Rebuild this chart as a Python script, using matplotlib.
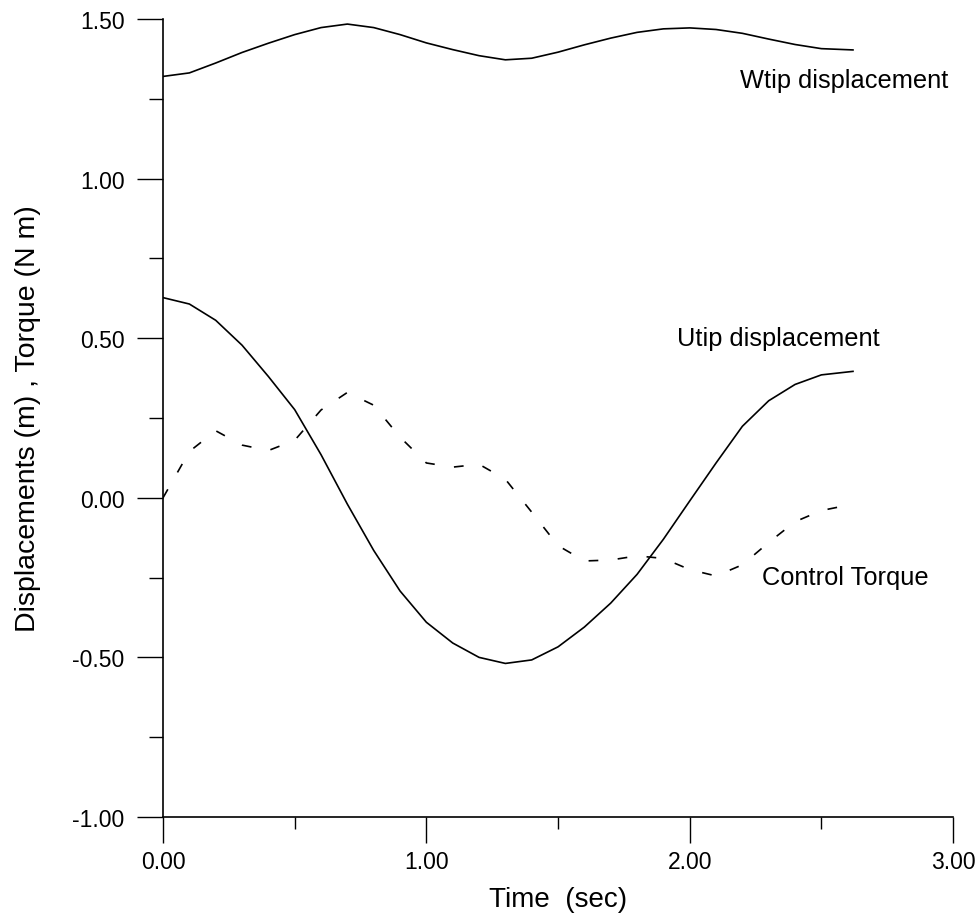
import numpy as np
import matplotlib.pyplot as plt
from matplotlib.ticker import MultipleLocator, FormatStrFormatter

plt.rcParams['font.family'] = ['Liberation Sans', 'DejaVu Sans']
plt.rcParams['lines.scale_dashes'] = False

# time samples (sec)
time = [0.0, 0.1, 0.2, 0.3, 0.4, 0.5, 0.6, 0.7, 0.8, 0.9,
        1.0, 1.1, 1.2, 1.3, 1.4, 1.5, 1.6, 1.7, 1.8, 1.9,
        2.0, 2.1, 2.2, 2.3, 2.4, 2.5, 2.62]

# Wtip displacement (m)
wtip = [1.320, 1.331, 1.362, 1.395, 1.424, 1.451, 1.473, 1.484, 1.473, 1.451,
        1.425, 1.404, 1.385, 1.372, 1.377, 1.396, 1.419, 1.440, 1.458, 1.469,
        1.472, 1.467, 1.455, 1.437, 1.420, 1.407, 1.403]

# Utip displacement (m)
utip = [0.627, 0.607, 0.556, 0.478, 0.380, 0.276, 0.135, -0.020, -0.165, -0.292,
        -0.390, -0.455, -0.500, -0.519, -0.508, -0.467, -0.405, -0.330, -0.240, -0.130,
        -0.010, 0.109, 0.224, 0.304, 0.355, 0.385, 0.396]

# control torque (N m)
torque_time = time[:-1] + [2.56]
torque = [0.000, 0.145, 0.210, 0.165, 0.148, 0.180, 0.275, 0.330, 0.290, 0.190,
          0.109, 0.096, 0.105, 0.058, -0.045, -0.150, -0.198, -0.195, -0.182, -0.190,
          -0.225, -0.245, -0.210, -0.140, -0.075, -0.040, -0.030]

fig = plt.figure(figsize=(9.78, 9.2), dpi=100)
ax = fig.add_axes([0.1667, 0.1109, 0.8078, 0.8674])

ax.plot(time, wtip, color='black', lw=1.2)
ax.plot(time, utip, color='black', lw=1.2)
ax.plot(torque_time, torque, color='black', lw=1.2, dashes=(7, 14))

ax.text(2.19, 1.287, 'Wtip displacement', fontsize=18.3, ha='left', va='baseline')
ax.text(1.952, 0.479, 'Utip displacement', fontsize=18.3, ha='left', va='baseline')
ax.text(2.275, -0.270, 'Control Torque', fontsize=18.3, ha='left', va='baseline')

ax.set_xlim(0, 3)
ax.set_ylim(-1, 1.5)
ax.spines['top'].set_visible(False)
ax.spines['right'].set_visible(False)
for s in ['left', 'bottom']:
    ax.spines[s].set_linewidth(1.2)

ax.xaxis.set_major_locator(MultipleLocator(1.0))
ax.xaxis.set_minor_locator(MultipleLocator(0.5))
ax.yaxis.set_major_locator(MultipleLocator(0.5))
ax.yaxis.set_minor_locator(MultipleLocator(0.25))
ax.xaxis.set_major_formatter(FormatStrFormatter('%.2f'))
ax.yaxis.set_major_formatter(FormatStrFormatter('%.2f'))

ax.tick_params(axis='x', which='major', direction='out', length=18.7, width=1, pad=5, labelsize=16.5)
ax.tick_params(axis='x', which='minor', direction='out', length=8.6, width=1)
ax.tick_params(axis='y', which='major', direction='out', length=18.7, width=1, pad=9, labelsize=16.5)
ax.tick_params(axis='y', which='minor', direction='out', length=10, width=1)

ax.set_xlabel('Time  (sec)', fontsize=20, va='center', ha='center')
ax.xaxis.set_label_coords(0.5, -0.1028)
ax.set_ylabel('Displacements (m) , Torque (N m)', fontsize=20.5, va='center', ha='center')
ax.yaxis.set_label_coords(-0.171, 0.5)

plt.savefig('out.png', dpi=100)
